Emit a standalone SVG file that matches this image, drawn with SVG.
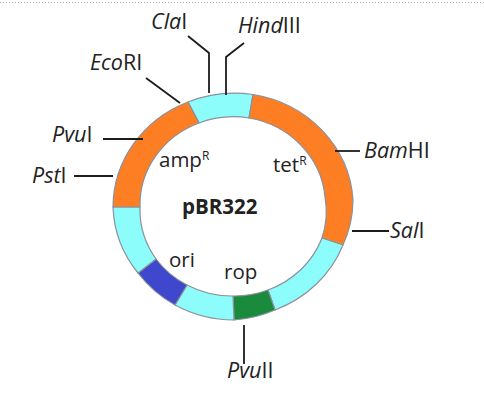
<svg xmlns="http://www.w3.org/2000/svg" width="484" height="402" viewBox="0 0 484 402">
<style>
text{font-family:"Open Sans","Noto Sans","Liberation Sans",sans-serif;fill:#222;font-size:21.500px}
.t{font-size:20.500px}
.i{font-style:italic}
.s{stroke:#8b909c;stroke-width:1.2;stroke-linejoin:round}
.o{fill:#fd7e23}.c{fill:#8cfdfb}
.l{fill:none;stroke:#1c1c1c;stroke-width:1.8}
</style>
<rect width="484" height="402" fill="#fff"/>
<line x1="0" y1="2.5" x2="484" y2="2.5" stroke="#aaa" stroke-width="1" stroke-dasharray="1 2"/>
<g id="plasmid">
<path id="seg-hind" class="s c" d="M188 102A120 114 0 0 1 253 94.500L249 118A93 88 0 0 0 199 123Z"/>
<path id="seg-tet" class="s o" d="M253 94.500A120 114 0 0 1 353 200A120 114 0 0 1 343 245L322 238A93 88 0 0 0 325 197A93 88 0 0 0 249 118Z"/>
<path id="seg-c1" class="s c" d="M343 245A120 114 0 0 1 275 310L268 290A93 88 0 0 0 322 238Z"/>
<path id="seg-rop" class="s" fill="#1a8a3c" d="M275 310A120 114 0 0 1 234 320L233 296A93 88 0 0 0 268 290Z" stroke-width="1"/>
<path id="seg-c2" class="s c" d="M234 320A120 114 0 0 1 175 305L187 285A93 88 0 0 0 233 296Z"/>
<path id="seg-ori" class="s" fill="#3f47cc" d="M175 305A120 114 0 0 1 138 273L156 259A93 88 0 0 0 187 285Z"/>
<path id="seg-c3" class="s c" d="M138 273A120 114 0 0 1 113 207L140 207A93 88 0 0 0 156 259Z"/>
<path id="seg-amp" class="s o" d="M113 207A120 114 0 0 1 188 102L199 123A93 88 0 0 0 140 207Z"/>
</g>
<g id="connectors">
<path class="l" d="M188 36L209 53V93"/>
<path class="l" d="M244 43L226 57V95"/>
<path class="l" d="M146 78L180 103"/>
<path class="l" d="M103 139H143"/>
<path class="l" d="M74 176H113"/>
<path class="l" d="M335 151H360"/>
<path class="l" d="M352 231H389"/>
<path class="l" d="M244 325V364"/>
</g>
<g id="n-cla"><text x="151" y="29"><tspan class="i">Cla</tspan>I</text></g>
<g id="n-hind"><text x="238" y="33"><tspan class="i">Hind</tspan>III</text></g>
<g id="n-eco"><text x="90" y="70"><tspan class="i">Eco</tspan>RI</text></g>
<g id="n-pvu1"><text x="52" y="142"><tspan class="i">Pvu</tspan>I</text></g>
<g id="n-pst"><text x="32" y="183"><tspan class="i">Pst</tspan>I</text></g>
<g id="n-bam"><text x="364" y="158"><tspan class="i">Bam</tspan>HI</text></g>
<g id="n-sal"><text x="390" y="238"><tspan class="i">Sal</tspan>I</text></g>
<g id="n-pvu2"><text x="227" y="378"><tspan class="i">Pvu</tspan>II</text></g>
<g id="n-amp"><text class="t" x="159" y="167">amp<tspan font-size="12" dy="-7">R</tspan></text></g>
<g id="n-tet"><text class="t" x="273" y="172">tet<tspan font-size="12" dy="-7">R</tspan></text></g>
<g id="n-name"><text class="t" x="182" y="214" font-weight="700">pBR322</text></g>
<g id="n-ori"><text class="t" x="169" y="267">ori</text></g>
<g id="n-rop"><text class="t" x="224" y="279">rop</text></g>
</svg>
